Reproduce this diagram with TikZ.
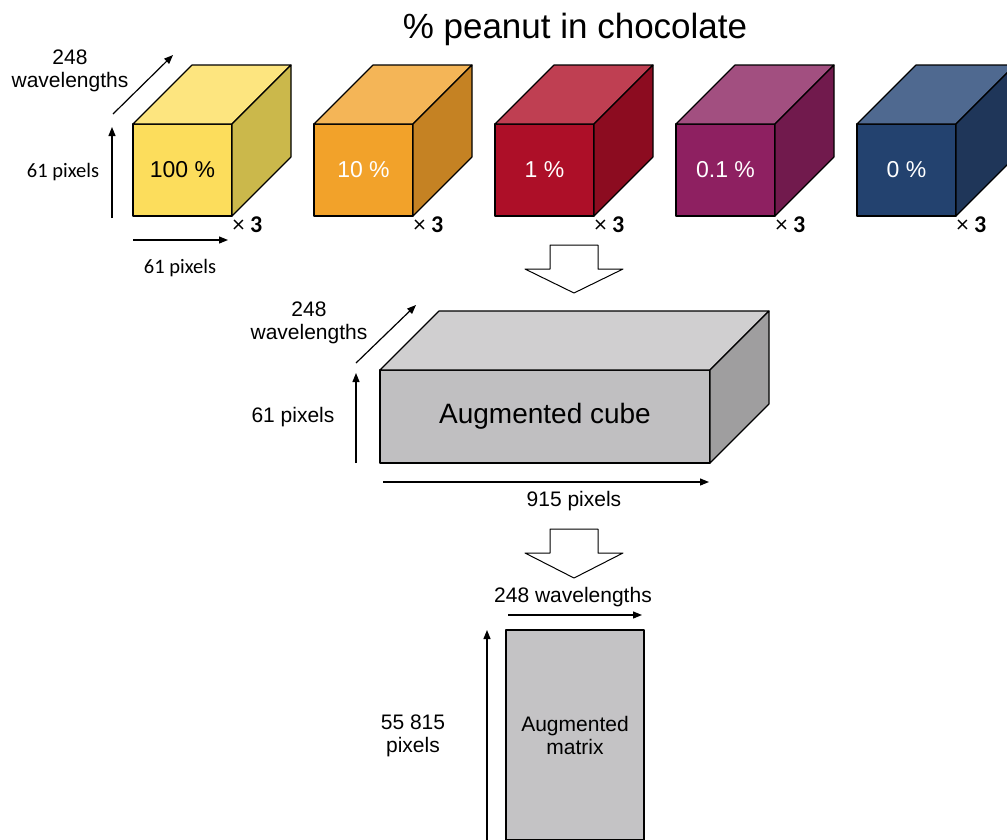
\documentclass[tikz,border=0pt]{standalone}
\usepackage{fontspec}
\setmainfont{Liberation Sans}
\newfontfamily\calibri{Carlito}
\usepackage{tikz}
\usetikzlibrary{arrows.meta, positioning, calc}
\definecolor{yelfront}{HTML}{FCDD5C}
\definecolor{yeltop}{HTML}{FDE57F}
\definecolor{yelside}{HTML}{CBB84B}
\definecolor{orafront}{HTML}{F2A22A}
\definecolor{oratop}{HTML}{F4B557}
\definecolor{oraside}{HTML}{C58223}
\definecolor{redfront}{HTML}{AD0F28}
\definecolor{redtop}{HTML}{BF3F52}
\definecolor{redside}{HTML}{8C0C20}
\definecolor{purfront}{HTML}{8E2061}
\definecolor{purtop}{HTML}{A24F80}
\definecolor{purside}{HTML}{711A4D}
\definecolor{blufront}{HTML}{23426F}
\definecolor{blutop}{HTML}{4F6990}
\definecolor{bluside}{HTML}{1F3659}
\definecolor{greyfront}{HTML}{C0BFC1}
\definecolor{greytop}{HTML}{D0CFD0}
\definecolor{greyside}{HTML}{9F9E9F}
\definecolor{matfill}{HTML}{C4C3C5}
% top and side faces behind a front face node
\newcommand{\cubefaces}[3]{%
    \draw[edge, fill=#2] (#1.north west) -- ++(59,-59) -- ($(#1.north east)+(59,-59)$) -- (#1.north east) -- cycle;
    \draw[edge, fill=#3] (#1.north east) -- ++(59,-59) -- ($(#1.south east)+(59,-59)$) -- (#1.south east) -- cycle;
}

\begin{document}
\begin{tikzpicture}[
    x=1pt, y=-1pt,
    node distance=82pt,
    edge/.style={draw=black, line width=1.1pt, line join=round},
    face/.style={rectangle, edge, minimum width=99pt, minimum height=92pt, inner sep=0pt, outer sep=0pt, font=\fontsize{23}{26}\selectfont},
    label/.style={font=\fontsize{21}{23}\selectfont, align=center, inner sep=0pt},
    cal/.style={font=\calibri\fontsize{20.5}{23}\selectfont, inner sep=0pt},
    times/.style={font=\calibri\fontsize{24}{26}\selectfont, anchor=north west, inner sep=0.5pt},
    dim/.style={-{Triangle[length=9pt, width=7pt]}, line width=1.2pt},
    hollow/.style={edge, fill=white, line width=1pt},
]
    \useasboundingbox (0,0) rectangle (1007,839);

    \node[font=\fontsize{35}{38}\selectfont] (title) at (575,29) {\% peanut in chocolate};

    % row of cubes
    \node[face, fill=yelfront] (c1) at (182.5,170) {100 \%};
    \node[face, fill=orafront, text=white, right=of c1] (c2) {10 \%};
    \node[face, fill=redfront, text=white, right=of c2] (c3) {1 \%};
    \node[face, fill=purfront, text=white, right=of c3] (c4) {0.1 \%};
    \node[face, fill=blufront, text=white, right=of c4] (c5) {0 \%};
    \cubefaces{c1}{yeltop}{yelside}
    \cubefaces{c2}{oratop}{oraside}
    \cubefaces{c3}{redtop}{redside}
    \cubefaces{c4}{purtop}{purside}
    \cubefaces{c5}{blutop}{bluside}
    \node[times] (x1) at (c1.south east) {× \textbf{3}};
    \node[times] (x2) at (c2.south east) {× \textbf{3}};
    \node[times] (x3) at (c3.south east) {× \textbf{3}};
    \node[times] (x4) at (c4.south east) {× \textbf{3}};
    \node[times] (x5) at (c5.south east) {× \textbf{3}};

    \draw[dim] ($(c1.south west)+(-21,2)$) -- ($(c1.north west)+(-21,3)$);
    \draw[dim] ($(c1.south west)+(0,24)$) -- ($(c1.south east)+(-4,24)$);
    \draw[dim] ($(c1.north west)+(-20,-10)$) -- ($(c1.north west)+(40,-69)$);
    \node[label] (wl1) at (70,71) {248\\wavelengths};
    \node[cal] (px1) at (63,172) {61 pixels};
    \node[cal] (px2) at (180,268) {61 pixels};

    \draw[hollow] (550,245) -- (598,245) -- (598,269) -- (623,269) -- (574,293) -- (525,269) -- (550,269) -- cycle;

    % augmented cube
    \node[face, fill=greyfront, minimum width=330pt, minimum height=93pt, font=\fontsize{28}{30}\selectfont] (aug) at (545,416.5) {Augmented cube};
    \cubefaces{aug}{greytop}{greyside}
    \draw[dim] ($(aug.south west)+(-24,0)$) -- ($(aug.north west)+(-24,3)$);
    \draw[dim] ($(aug.north west)+(-24,-7)$) -- ($(aug.north west)+(36,-65)$);
    \draw[dim] ($(aug.south west)+(3,19)$) -- ($(aug.south east)+(-1,19)$);
    \node[label] (wl2) at (309,323) {248\\wavelengths};
    \node[label] (px3) at (293,417) {61 pixels};
    \node[label] (px4) at (574,501) {915 pixels};

    \draw[hollow] (550,529) -- (598,529) -- (598,553) -- (623,553) -- (574,578) -- (525,553) -- (550,553) -- cycle;

    % augmented matrix
    \node[edge, fill=matfill, minimum width=138pt, minimum height=210pt, inner sep=0pt, outer sep=0pt, label] (mat) at (575,735) {Augmented\\matrix};
    \draw[dim] ($(mat.north west)+(2,-15)$) -- ($(mat.north east)+(-2,-15)$);
    \draw[dim] ($(mat.south west)+(-19,0)$) -- ($(mat.north west)+(-19,0)$);
    \node[label] (wl3) at (573,597) {248 wavelengths};
    \node[label] (px5) at (413,736) {55 815\\pixels};
\end{tikzpicture}
\end{document}
